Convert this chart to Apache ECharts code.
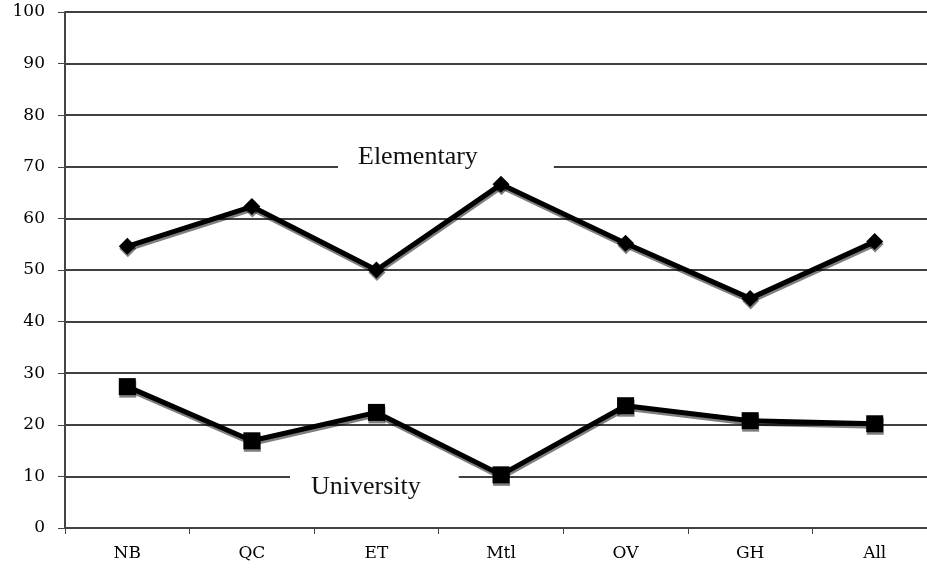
<!DOCTYPE html>
<html lang="en">
<head>
    <meta charset="UTF-8">
    <title>Elementary / University</title>
    <script src="https://cdn.jsdelivr.net/npm/echarts@6/dist/echarts.min.js"></script>
    <style>
        html, body { margin: 0; padding: 0; background: #fff; overflow: hidden; }
        #chart { width: 927px; height: 568px; }
    </style>
</head>
<body>
    <div id="chart"></div>
    <script>
        // 数据
        const categories = ['NB', 'QC', 'ET', 'Mtl', 'OV', 'GH', 'All'];
        const elementary = [54.6, 62.3, 50.0, 66.6, 55.2, 44.5, 55.5];
        const university = [27.4, 16.9, 22.4, 10.3, 23.7, 20.8, 20.2];
        const yTicks = { min: 0, max: 100, interval: 10 };

        const serif = '"Liberation Serif", "Times New Roman", serif';
        const wideSerif = '"DejaVu Serif", serif';

        function lineSerie(name, data, symbol) {
            return {
                name: name,
                type: 'line',
                data: data,
                symbol: symbol,
                symbolSize: 17,
                lineStyle: {
                    color: '#000', width: 5,
                    shadowColor: 'rgba(0,0,0,0.5)', shadowOffsetY: 2.5, shadowOffsetX: 0.5
                },
                itemStyle: {
                    color: '#000',
                    shadowColor: 'rgba(0,0,0,0.5)', shadowOffsetY: 2.5, shadowOffsetX: 0.5
                },
                z: 5
            };
        }

        let option = {
            backgroundColor: '#fff',
            animation: false,
            // 绘图区右侧超出画布（原图被裁切）
            grid: { left: 65, top: 12, width: 872, bottom: 40, outerBoundsMode: 'none', containLabel: false },
            xAxis: {
                type: 'category',
                data: categories,
                boundaryGap: true,
                axisLine: { lineStyle: { color: '#444', width: 1.5 } },
                axisTick: { show: true, length: 6, lineStyle: { color: '#444' } },
                axisLabel: { color: '#000', fontFamily: wideSerif, fontSize: 17, margin: 17 },
                splitLine: { show: false }
            },
            yAxis: {
                type: 'value',
                min: yTicks.min, max: yTicks.max, interval: yTicks.interval,
                axisLine: { show: true, lineStyle: { color: '#444', width: 2 } },
                axisTick: { show: true, length: 7, lineStyle: { color: '#444' } },
                axisLabel: { color: '#000', fontFamily: wideSerif, fontSize: 17, margin: 20 },
                splitLine: { show: true, lineStyle: { color: '#000', width: 1.5 } }
            },
            graphic: [
                {
                    type: 'text', left: 338, top: 142, z: 3,
                    style: {
                        text: 'Elementary', fontFamily: serif, fontSize: 26, fill: '#111',
                        backgroundColor: '#fff', padding: [2, 76, 2, 20]
                    }
                },
                {
                    type: 'text', left: 290, top: 472, z: 3,
                    style: {
                        text: 'University', fontFamily: serif, fontSize: 26, fill: '#111',
                        backgroundColor: '#fff', padding: [2, 38, 2, 21]
                    }
                }
            ],
            series: [
                lineSerie('Elementary', elementary, 'diamond'),
                lineSerie('University', university, 'rect')
            ]
        };

        let chart = echarts.init(document.getElementById('chart'));
        chart.setOption(option);
    </script>
</body>
</html>
